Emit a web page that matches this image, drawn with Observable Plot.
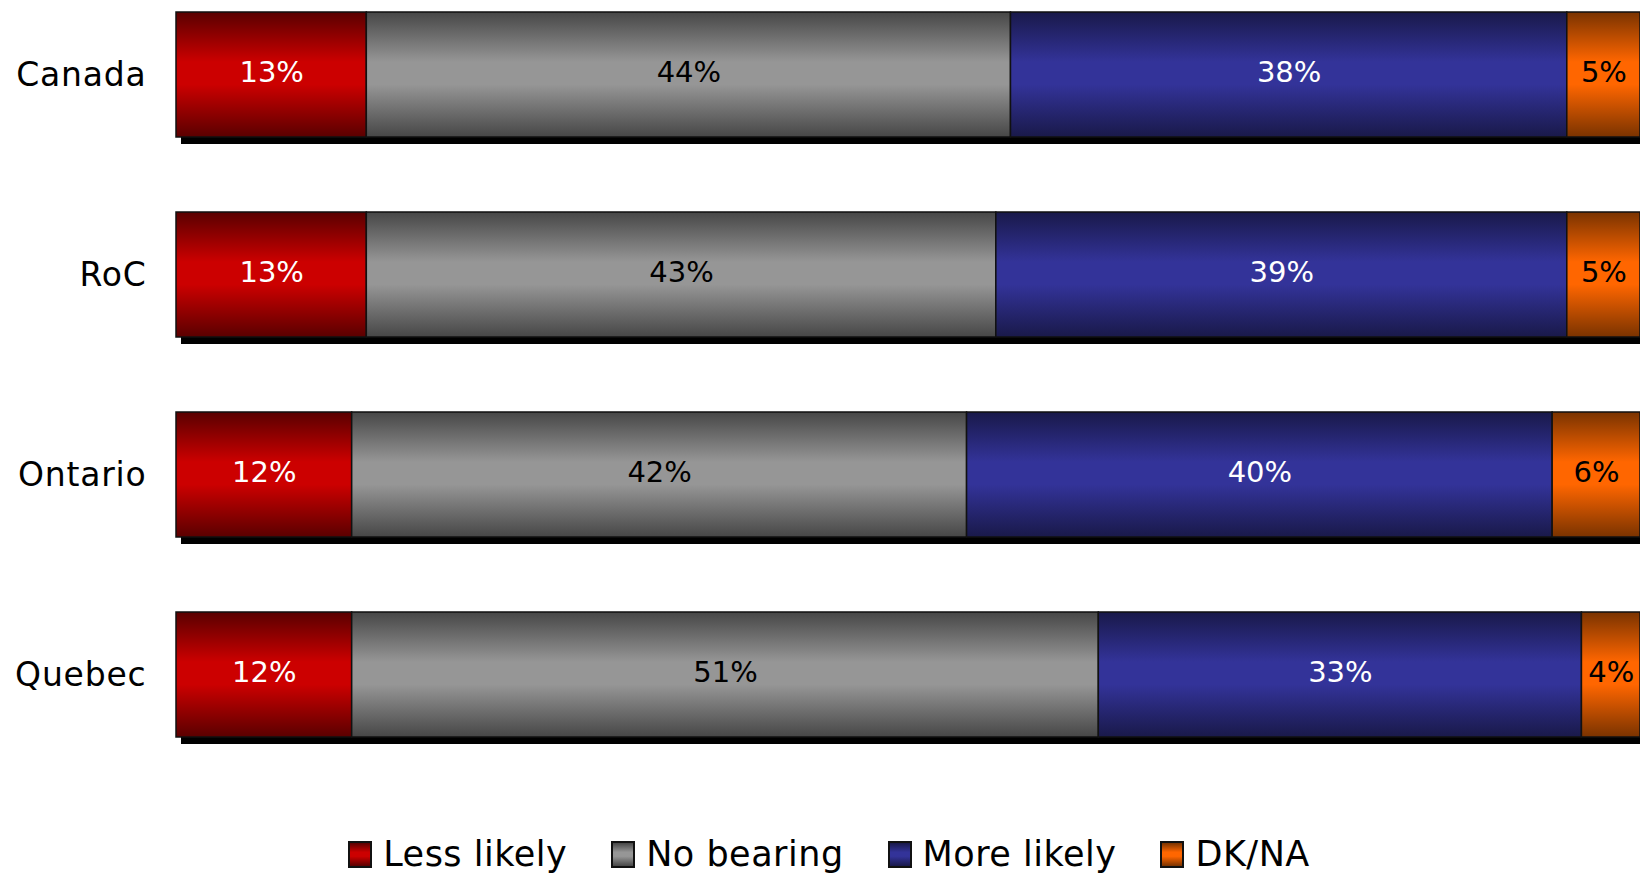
<!DOCTYPE html>
<html>
<head>
<meta charset="utf-8">
<script src="https://cdn.jsdelivr.net/npm/d3@7"></script>
<script src="https://cdn.jsdelivr.net/npm/@observablehq/plot@0.6"></script>
<style>
  html, body { margin: 0; padding: 0; background: #fff; overflow: hidden; }
  #chart { width: 1640px; }
  .legend { display: flex; justify-content: center; align-items: center; gap: 44px;
            font-family: "DejaVu Sans", sans-serif; font-size: 35px; color: #000;
            margin-top: 74px; padding-left: 18px; letter-spacing: 0.5px; }
  .legend .item { display: flex; align-items: center; gap: 11px; }
  .legend .sw { width: 20px; height: 23px; border: 2px solid #111; box-sizing: content-box; }
  .yaxis text { letter-spacing: 0.8px; }
</style>
</head>
<body>
<div id="chart"></div>
<script>
// ---- data ----
const categories = ["Canada", "RoC", "Ontario", "Quebec"];
const responses = ["Less likely", "No bearing", "More likely", "DK/NA"];
const lessLikely = [13, 13, 12, 12];
const noBearing  = [44, 43, 42, 51];
const moreLikely = [38, 39, 40, 33];
const dkna       = [5, 5, 6, 4];

// ---- styles ----
const gradStops = {
  "Less likely": ["#5a0000", "#cc0000"],
  "No bearing":  ["#474747", "#969696"],
  "More likely": ["#19194a", "#333399"],
  "DK/NA":       ["#7a3300", "#ff6600"]
};
const textColors = {"Less likely": "white", "No bearing": "black", "More likely": "white", "DK/NA": "black"};
const gradId = r => "grad" + responses.indexOf(r);

const seriesValues = [lessLikely, noBearing, moreLikely, dkna];
const data = [];
categories.forEach((c, i) => {
  responses.forEach((r, j) => data.push({region: c, response: r, value: seriesValues[j][i]}));
});
const totals = categories.map((c, i) => seriesValues.reduce((s, a) => s + a[i], 0));
const shadowData = categories.map((c, i) => ({region: c, total: totals[i]}));

const font = "DejaVu Sans, sans-serif";

const svg = Plot.plot({
  width: 1640,
  height: 760,
  marginLeft: 176,
  marginRight: 0,
  marginTop: 0,
  marginBottom: 11,
  style: {fontFamily: font, background: "white", color: "black"},
  x: {domain: [0, 100], axis: null},
  y: {domain: categories, paddingInner: 0.373, paddingOuter: 0.05, label: null},
  color: {type: "identity"},
  marks: [
    Plot.barX(shadowData, {x1: 0, x2: "total", y: "region", dx: 5, dy: 7, fill: "black"}),
    Plot.barX(data, Plot.stackX({
      x: "value", y: "region",
      fill: d => `url(#${gradId(d.response)})`,
      stroke: "#111", strokeWidth: 1.5
    })),
    Plot.text(data, Plot.stackX({
      x: "value", y: "region",
      text: d => d.value + "%",
      fill: d => textColors[d.response],
      fontSize: 29, fontFamily: font, dy: -2
    })),
    Plot.axisY({tickSize: 0, tickPadding: 30, fontSize: 33, fontFamily: font, label: null, className: "yaxis"})
  ]
});

// gradient definitions
const defs = d3.select(svg).insert("defs", ":first-child");
responses.forEach(r => {
  const [dark, bright] = gradStops[r];
  const g = defs.append("linearGradient").attr("id", gradId(r))
    .attr("x1", 0).attr("y1", 0).attr("x2", 0).attr("y2", 1);
  [[0, dark], [0.4, bright], [0.58, bright], [1, dark]].forEach(([o, c]) =>
    g.append("stop").attr("offset", o).attr("stop-color", c));
});

document.getElementById("chart").appendChild(svg);

// legend
const legend = d3.select("body").append("div").attr("class", "legend");
responses.forEach(r => {
  const [dark, bright] = gradStops[r];
  const it = legend.append("div").attr("class", "item");
  it.append("div").attr("class", "sw")
    .style("background", `linear-gradient(to bottom, ${dark} 0%, ${bright} 40%, ${bright} 58%, ${dark} 100%)`);
  it.append("span").text(r);
});
</script>
</body>
</html>
